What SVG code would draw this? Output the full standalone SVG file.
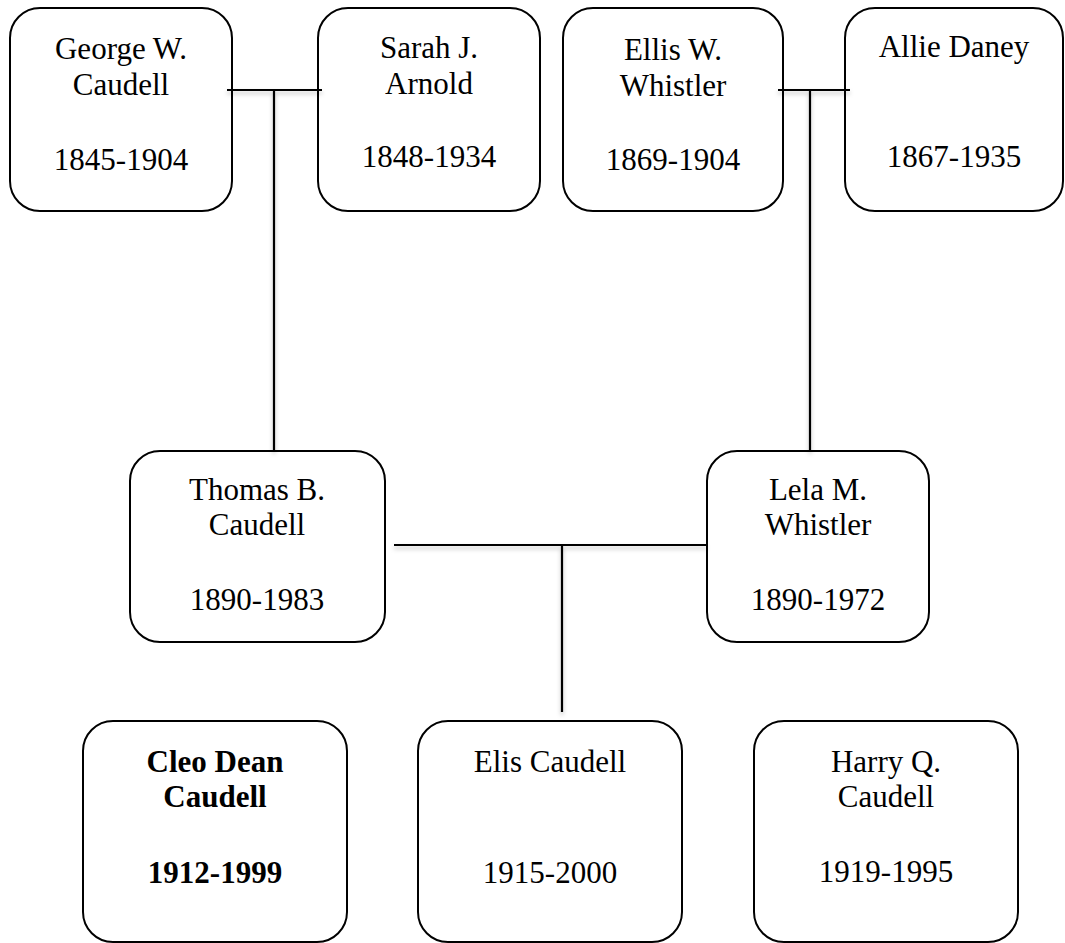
<svg xmlns="http://www.w3.org/2000/svg" width="1065" height="943" viewBox="0 0 1065 943">
<defs>
<style>
.box{fill:#fff;stroke:#000;stroke-width:2}
.t{font-family:"Liberation Serif","Times New Roman",serif;font-size:31px;fill:#000;text-anchor:middle}
.b{font-weight:bold}
.c{stroke:#000;stroke-width:2.2;fill:none;filter:url(#sh)}
</style>
<filter id="sh" x="-20%" y="-50%" width="140%" height="300%">
<feDropShadow dx="0" dy="3" stdDeviation="2" flood-color="#000" flood-opacity="0.25"/>
</filter>
</defs>
<rect width="1065" height="943" fill="#fff"/>
<g id="george"><rect class="box" x="10" y="8" width="222" height="203" rx="30"/><text class="t" x="121" y="59">George W.</text><text class="t" x="121" y="95">Caudell</text><text class="t" x="121" y="170">1845-1904</text></g>
<g id="sarah"><rect class="box" x="318" y="8" width="222" height="203" rx="30"/><text class="t" x="429" y="58">Sarah J.</text><text class="t" x="429" y="94">Arnold</text><text class="t" x="429" y="167">1848-1934</text></g>
<g id="ellis"><rect class="box" x="563" y="8" width="220" height="203" rx="30"/><text class="t" x="673" y="60">Ellis W.</text><text class="t" x="673" y="96">Whistler</text><text class="t" x="673" y="170">1869-1904</text></g>
<g id="allie"><rect class="box" x="845" y="8" width="218" height="203" rx="30"/><text class="t" x="954" y="57">Allie Daney</text><text class="t" x="954" y="167">1867-1935</text></g>
<g id="thomas"><rect class="box" x="130" y="451" width="255" height="191" rx="30"/><text class="t" x="257" y="500">Thomas B.</text><text class="t" x="257" y="535">Caudell</text><text class="t" x="257" y="610">1890-1983</text></g>
<g id="lela"><rect class="box" x="707" y="451" width="222" height="191" rx="30"/><text class="t" x="818" y="500">Lela M.</text><text class="t" x="818" y="535">Whistler</text><text class="t" x="818" y="610">1890-1972</text></g>
<g id="cleo"><rect class="box" x="83" y="721" width="264" height="221" rx="30"/><text class="t b" x="215" y="772">Cleo Dean</text><text class="t b" x="215" y="807">Caudell</text><text class="t b" x="215" y="883">1912-1999</text></g>
<g id="elis"><rect class="box" x="418" y="721" width="264" height="221" rx="30"/><text class="t" x="550" y="772">Elis Caudell</text><text class="t" x="550" y="883">1915-2000</text></g>
<g id="harry"><rect class="box" x="754" y="721" width="264" height="221" rx="30"/><text class="t" x="886" y="772">Harry Q.</text><text class="t" x="886" y="807">Caudell</text><text class="t" x="886" y="882">1919-1995</text></g>
<g id="connectors">
<path class="c" d="M227 90H322M274 90V451"/>
<path class="c" d="M778 90H850M810 90V451"/>
<path class="c" d="M394 545H707M562 545V712"/>
<path class="c" d="M347 779H418"/>
<path class="c" d="M682 779H754"/>
</g>
</svg>
